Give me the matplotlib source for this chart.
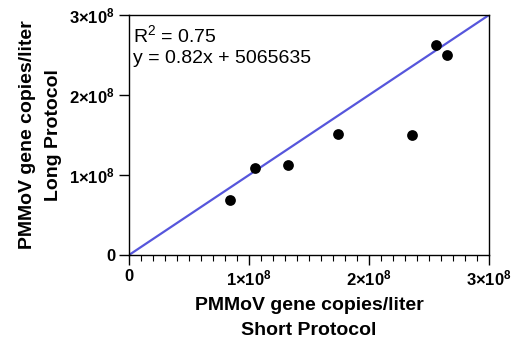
"""Long vs short protocol PMMoV concentrations with fitted line."""

import matplotlib

matplotlib.use("Agg")
import matplotlib.pyplot as plt
from matplotlib.ticker import MultipleLocator, FuncFormatter

# Values (gene copies per liter).
short_protocol = [0.842e8, 1.053e8, 1.328e8, 1.744e8, 2.356e8, 2.556e8, 2.653e8]
long_protocol = [0.684e8, 1.088e8, 1.125e8, 1.513e8, 1.500e8, 2.625e8, 2.500e8]

# Drawn regression line end points.
fit_x = [0.0, 3.0e8]
fit_y = [0.0, 3.0e8]

r_squared = "0.75"
fit_equation = "y = 0.82x + 5065635"
tick_values = [0, 1e8, 2e8, 3e8]
label_lines = ["PMMoV gene copies/liter"]
x_label = label_lines + ["Short Protocol"]
y_label = label_lines + ["Long Protocol"]

FONT = ["Liberation Sans", "DejaVu Sans"]
W, H = 517, 341


def sci_label(value, _pos=None):
    if value == 0:
        return "0"
    return f"{int(round(value / 1e8))}×10$^{{8}}$"


def main():
    plt.rcParams.update({
        "font.family": FONT,
        "font.size": 10,
        "mathtext.default": "regular",
    })

    fig = plt.figure(figsize=(W / 100, H / 100), dpi=100)
    ax = fig.add_axes([129 / W, 1 - 255 / H, 360 / W, 240 / H])

    ax.plot(fit_x, fit_y, color="#5656dc", linewidth=1.6, zorder=2)
    ax.scatter(short_protocol, long_protocol, s=60, color="black",
               linewidths=0, zorder=3)

    ax.set_xlim(0, 3e8)
    ax.set_ylim(0, 3e8)
    ax.set_xticks(tick_values)
    ax.set_yticks(tick_values)
    ax.xaxis.set_minor_locator(MultipleLocator(1e7))
    ax.xaxis.set_major_formatter(FuncFormatter(sci_label))
    ax.yaxis.set_major_formatter(FuncFormatter(sci_label))

    ax.tick_params(axis="both", which="major", length=7, width=1.0,
                   labelsize=12, pad=3)
    ax.tick_params(axis="x", which="minor", length=4, width=0.8)
    for lbl in ax.get_xticklabels() + ax.get_yticklabels():
        lbl.set_fontweight("bold")
    for side in ax.spines.values():
        side.set_linewidth(1.0)

    # axis titles, one baseline per line
    for text, y_px in zip(x_label, [310, 335]):
        fig.text(309 / W, 1 - y_px / H, text, ha="center", va="baseline",
                 fontsize=14, fontweight="bold")
    for text, x_px in zip(y_label, [32, 58]):
        fig.text(x_px / W, 1 - 135 / H, text, ha="center", va="baseline",
                 rotation=90, rotation_mode="anchor",
                 fontsize=14, fontweight="bold")

    ax.text(0.012, 0.8875, f"R$^{{2}}$ = {r_squared}", transform=ax.transAxes,
            ha="left", va="baseline", fontsize=14)
    ax.text(0.012, 0.80, fit_equation, transform=ax.transAxes,
            ha="left", va="baseline", fontsize=14)

    fig.savefig("out.png", dpi=100, facecolor="white")
    plt.close(fig)


if __name__ == "__main__":
    main()
